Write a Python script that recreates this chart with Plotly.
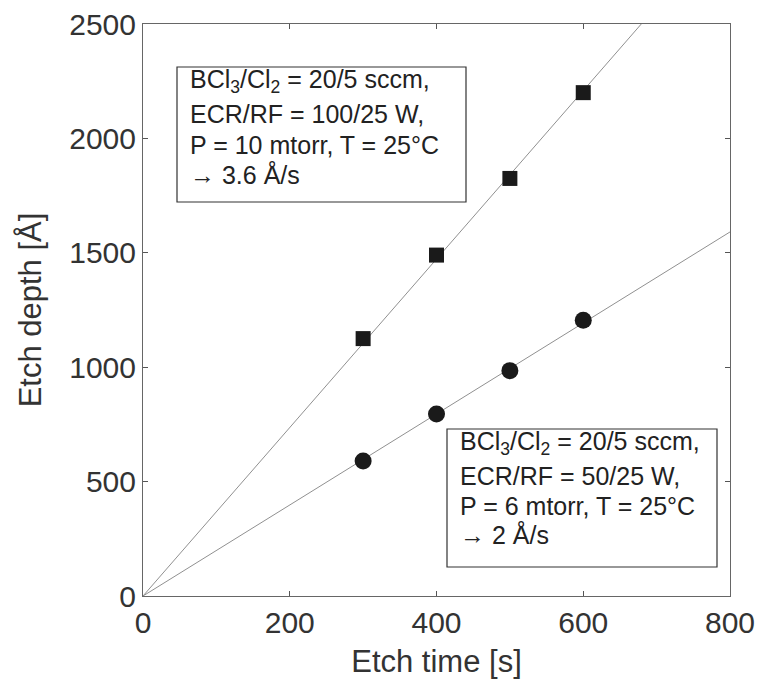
import numpy as np
import plotly.graph_objects as go

# Data
time_s = [300, 400, 500, 600]
depth_high = [1125, 1490, 1825, 2200]   # squares, ECR 100 W
depth_low = [590, 795, 985, 1205]       # circles, ECR 50 W
fit_x = [0, 800]
x_ticks = [0, 200, 400, 600, 800]
y_ticks = [0, 500, 1000, 1500, 2000, 2500]

box_high = ["BCl<sub>3</sub>/Cl<sub>2</sub> = 20/5 sccm,",
            "ECR/RF = 100/25 W,",
            "P = 10 mtorr, T = 25°C",
            "→ 3.6 Å/s"]
box_low = ["BCl<sub>3</sub>/Cl<sub>2</sub> = 20/5 sccm,",
           "ECR/RF = 50/25 W,",
           "P = 6 mtorr, T = 25°C",
           "→ 2 Å/s"]


def slope_through_origin(x, y):
    x = np.asarray(x, float)
    y = np.asarray(y, float)
    return float((x * y).sum() / (x * x).sum())


k_high = slope_through_origin(time_s, depth_high)
k_low = slope_through_origin(time_s, depth_low)

FONT = "Liberation Sans, Arial, sans-serif"
fig = go.Figure()

for k in (k_high, k_low):
    fig.add_trace(go.Scatter(x=fit_x, y=[k * v for v in fit_x], mode="lines",
                             line=dict(color="#909090", width=1), hoverinfo="skip",
                             showlegend=False, cliponaxis=True))

fig.add_trace(go.Scatter(x=time_s, y=depth_high, mode="markers",
                         marker=dict(symbol="square", size=15, color="#1a1a1a"),
                         showlegend=False))
fig.add_trace(go.Scatter(x=time_s, y=depth_low, mode="markers",
                         marker=dict(symbol="circle", size=17, color="#1a1a1a"),
                         showlegend=False))

W, H = 760, 679
L, R, T, B = 143, 30, 24, 83
pw, ph = W - L - R, H - T - B


def px(xp):
    return (xp - L) / pw


def py(yp):
    return (H - B - yp) / ph


shapes = []
annotations = []
for (x0, x1, y0, y1, tx, lines, ly) in [
    (177, 466, 67, 202, 188, box_high, [89, 120, 151, 181]),
    (447, 717, 429, 567, 458, box_low, [451, 482, 512, 541]),
]:
    shapes.append(dict(type="rect", xref="paper", yref="paper",
                       x0=px(x0), x1=px(x1), y0=py(y1), y1=py(y0),
                       line=dict(color="#333333", width=1.2), fillcolor="white", layer="above"))
    for s, yy in zip(lines, ly):
        annotations.append(dict(xref="paper", yref="paper", x=px(tx), y=py(yy + 10),
                                xanchor="left", yanchor="bottom", showarrow=False,
                                text=s, font=dict(family=FONT, size=25, color="#222222")))

fig.update_layout(
    width=W, height=H,
    margin=dict(l=L, r=R, t=T, b=B, autoexpand=False),
    paper_bgcolor="white", plot_bgcolor="white",
    font=dict(family=FONT, color="#333333"),
    shapes=shapes, annotations=annotations,
    xaxis=dict(range=[0, 800], tickvals=x_ticks, ticks="inside", ticklen=5,
               tickcolor="#555555", showline=True, linecolor="#666666", linewidth=1,
               mirror="ticks", showgrid=False, zeroline=False, automargin=False,
               tickfont=dict(family=FONT, size=30, color="#333333"),
               title=dict(text="Etch time [s]", font=dict(family=FONT, size=31, color="#333333"),
                          standoff=12)),
    yaxis=dict(range=[0, 2500], tickvals=y_ticks, ticks="inside", ticklen=5,
               tickcolor="#555555", showline=True, linecolor="#666666", linewidth=1,
               mirror="ticks", showgrid=False, zeroline=False, automargin=False,
               tickfont=dict(family=FONT, size=30, color="#333333"),
               title=dict(text="Etch depth [Å]", font=dict(family=FONT, size=31, color="#333333"),
                          standoff=18)),
)

fig.write_html("out.html")
